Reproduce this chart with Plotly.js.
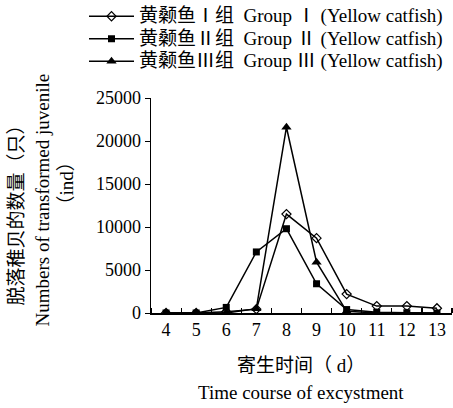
<!DOCTYPE html>
<html><head><meta charset="utf-8">
<script src="https://cdn.plot.ly/plotly-3.0.1.min.js"></script>
<style>body{margin:0;background:#fff}#c{width:453px;height:408px}</style>
</head><body><div id="c"></div>
<script>
const days = [4, 5, 6, 7, 8, 9, 10, 11, 12, 13];
const group1 = [0, 0, 150, 450, 11500, 8700, 2200, 800, 800, 550];
const group2 = [0, 0, 650, 7100, 9800, 3400, 400, 100, 30, 0];
const group3 = [0, 0, 0, 500, 21600, 5900, 200, 0, 0, 0];
const roman = ['Ⅰ', 'Ⅱ', 'Ⅲ'];
const yTitle = ['脱落稚贝的数量（只）', 'Numbers of transformed juvenile', '（ind）'];
const xTitle = ['寄生时间（ d）', 'Time course of excystment'];

const F = '"Liberation Serif", "Times New Roman", "Noto Sans CJK SC", serif';
const CJK = '"Noto Sans CJK SC"';
function legendName(i) {
  const r = '<span style="font-family:' + CJK + ';font-weight:300">' + roman[i] + '</span>';
  return '<span style="font-size:19px">黄颡鱼' + r + '组  Group ' + r + ' (Yellow catfish)</span>';
}
const line = {color: '#000', width: 1.5};
const traces = [
  {x: days, y: group1, name: legendName(0), mode: 'lines+markers', line: line,
   marker: {symbol: 'diamond-open', size: 7, color: '#000', line: {width: 1.2, color: '#000'}}},
  {x: days, y: group2, name: legendName(1), mode: 'lines+markers', line: line,
   marker: {symbol: 'square', size: 7, color: '#000'}},
  {x: days, y: group3, name: legendName(2), mode: 'lines+markers', line: line,
   marker: {symbol: 'triangle-up', size: 9, color: '#000'}}
];
const W = 301, H = 216;
function ann(text, px, py, angle) {
  return {text: text, xref: 'paper', yref: 'paper', x: (px - 151) / W, y: (313 - py) / H,
          textangle: angle, showarrow: false, xanchor: 'center', yanchor: 'middle',
          font: {family: F, size: 19, color: '#000'}};
}
const layout = {
  width: 453, height: 408,
  margin: {l: 151, r: 1, t: 97, b: 95},
  paper_bgcolor: '#fff', plot_bgcolor: '#fff',
  font: {family: F, size: 18, color: '#000'},
  showlegend: true,
  legend: {x: (84 - 151) / W, y: (313 - 0) / H, xanchor: 'left', yanchor: 'top',
           font: {family: F, size: 15, color: '#000'}, itemwidth: 45,
           tracegroupgap: 0, bgcolor: 'rgba(0,0,0,0)', borderwidth: 0},
  xaxis: {range: [3.5, 13.5], tickvals: days, ticktext: days.map(String),
          ticks: '', showline: true, linecolor: '#000', linewidth: 1.5,
          showgrid: false, zeroline: false, tickfont: {size: 18},
          minor: {ticks: 'inside', ticklen: 5, tick0: 3.5, dtick: 1, tickcolor: '#000', tickwidth: 1.2}},
  yaxis: {range: [0, 25000], dtick: 5000, ticks: 'outside', ticklen: 5, tickcolor: '#000',
          showline: true, linecolor: '#000', linewidth: 1.5, showgrid: false, zeroline: false,
          tickformat: 'd', tickfont: {size: 18}},
  annotations: [
    ann(yTitle[0], 16, 210, -90),
    ann(yTitle[1], 43, 200, -90),
    ann(yTitle[2], 67, 183, -90),
    ann(xTitle[0], 301, 366, 0),
    ann(xTitle[1], 301, 393, 0)
  ]
};
Plotly.newPlot('c', traces, layout, {displayModeBar: false, staticPlot: true});
</script></body></html>
